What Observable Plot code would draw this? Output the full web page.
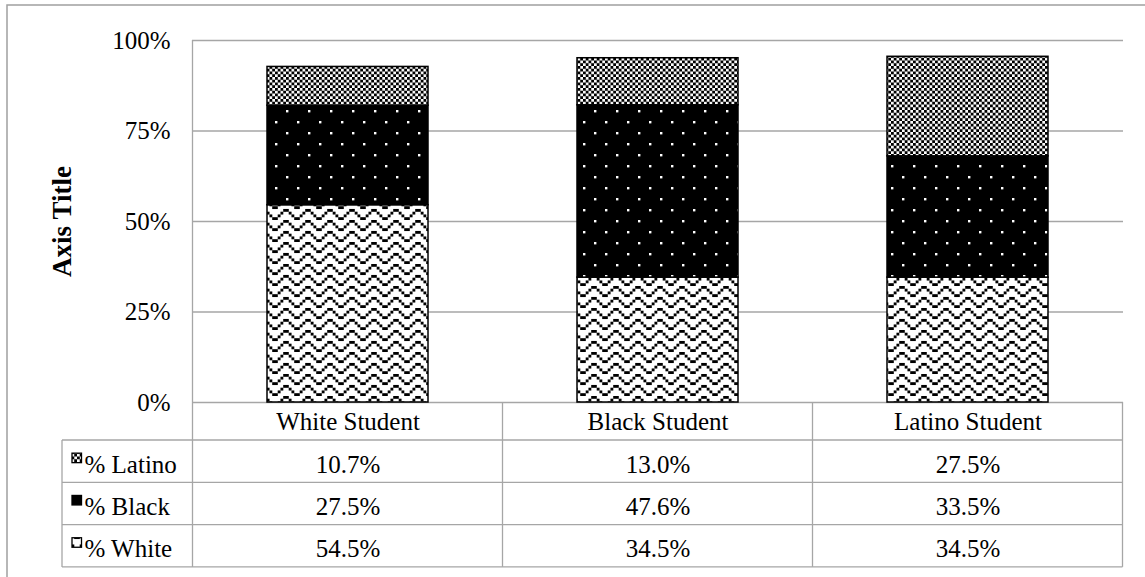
<!DOCTYPE html>
<html><head><meta charset="utf-8">
<script src="https://cdn.jsdelivr.net/npm/d3@7"></script>
<script src="https://cdn.jsdelivr.net/npm/@observablehq/plot@0.6"></script>
<style>
body{margin:0;background:#fff;}
#chart{position:relative;width:1145px;height:577px;overflow:hidden;}
</style></head><body><div id="chart"></div>
<script>
// ---- data ----
const categories = ["White Student", "Black Student", "Latino Student"];
const seriesNames = ["% White", "% Black", "% Latino"];
const pctWhite = [54.5, 34.5, 34.5];
const pctBlack = [27.5, 47.6, 33.5];
const pctLatino = [10.7, 13.0, 27.5];
const yTicks = [0, 25, 50, 75, 100];
const yTitle = "Axis Title";

const seriesValues = {"% White": pctWhite, "% Black": pctBlack, "% Latino": pctLatino};
const rows = [];
categories.forEach((c, i) => {
  seriesNames.forEach(s => rows.push({cat: c, series: s, value: seriesValues[s][i]}));
});
const tableOrder = ["% Latino", "% Black", "% White"]; // top to bottom in data table

// pick an installed Times-like serif face
function hasFont(name) {
  const ctx = document.createElement("canvas").getContext("2d");
  const probe = "White Student 0123456789% Wg";
  return ["monospace", "sans-serif"].some(base => {
    ctx.font = `24px ${base}`; const a = ctx.measureText(probe).width;
    ctx.font = `24px "${name}", ${base}`; const b = ctx.measureText(probe).width;
    return Math.abs(a - b) > 0.5;
  });
}
const serifName = ["Liberation Serif", "Times New Roman", "Tinos", "Nimbus Roman", "DejaVu Serif", "Noto Serif"].find(hasFont);
const font = (serifName ? `"${serifName}", ` : "") + "serif";
const cssRule = document.createElement("style");
cssRule.textContent = `#chart svg, #chart svg text, #chart svg g {font-family:${font} !important;}`;
document.head.appendChild(cssRule);

const grid = "#a6a6a6";
const fs = 25;
const patIds = {"% White": "patWhite", "% Black": "patBlack", "% Latino": "patLatino"};
const keyFill = {"% White": "url(#patWhite)", "% Black": "#000", "% Latino": "url(#patLatino)"};

// table geometry (offsets below the frame bottom)
const headerH = 38, rowH = 42.3, rowTextShift = 3, tableLeft = 62, keyX = 72, labelX = 84;

const plot = Plot.plot({
  width: 1145, height: 577,
  marginTop: 40, marginBottom: 175, marginLeft: 192, marginRight: 22,
  style: {fontFamily: font, fontSize: fs + "px", color: "#000", background: "transparent", overflow: "visible"},
  x: {domain: categories, paddingInner: 0.48, paddingOuter: 0.24, label: null, axis: null},
  y: {domain: [0, 100], label: null, axis: null},
  color: {domain: seriesNames, range: seriesNames.map(s => `url(#${patIds[s]})`)},
  marks: [
    Plot.ruleY(yTicks, {stroke: grid, strokeWidth: 1.3}),
    Plot.axisY({ticks: yTicks, tickFormat: d => d + "%", tickSize: 0, tickPadding: 22, fontSize: fs, label: null}),
    Plot.barY(rows, {x: "cat", y: "value", fill: "series", stroke: "#000", strokeWidth: 1.5}),
    Plot.text([yTitle], {frameAnchor: "left", dx: -130, rotate: -90, textAnchor: "middle", fontWeight: "bold", fontSize: 27, text: d => d}),
    // header row: category names
    Plot.text(categories, {x: d => d, frameAnchor: "bottom", dy: headerH / 2 + 0.5, lineAnchor: "middle", fontSize: fs, text: d => d}),
    // data rows
    ...tableOrder.map((s, k) => Plot.text(rows.filter(r => r.series === s), {
      x: "cat", frameAnchor: "bottom", dy: headerH + rowH * (k + 0.5) + rowTextShift, lineAnchor: "middle", fontSize: fs,
      text: d => d.value.toFixed(1) + "%"
    })),
    // row labels
    ...tableOrder.map((s, k) => Plot.text([s], {
      frameAnchor: "bottom-left", dx: labelX - 192, dy: headerH + rowH * (k + 0.5) + rowTextShift,
      lineAnchor: "middle", textAnchor: "start", fontSize: fs, text: d => d
    }))
  ]
});

document.getElementById("chart").appendChild(plot);
const svg = d3.select(plot);
svg.attr("font-family", font);

// ---- 8x8 pixel patterns, scaled like the original (2.75 px per cell) ----
const cell = 2.75;
const defs = svg.insert("defs", ":first-child");
function pixelPattern(id, bits, bg, fg) {
  const h = bits.length, w = bits[0].length;
  const p = defs.append("pattern").attr("id", id).attr("patternUnits", "userSpaceOnUse")
    .attr("width", w * cell).attr("height", h * cell);
  p.append("rect").attr("width", w * cell).attr("height", h * cell).attr("fill", bg);
  bits.forEach((row, y) => [...row].forEach((b, x) => {
    if (b === "1") p.append("rect").attr("x", x * cell - 0.05).attr("y", y * cell - 0.05)
      .attr("width", cell + 0.1).attr("height", cell + 0.1).attr("fill", fg);
  }));
}
pixelPattern("patWhite", [
  "10000001",
  "01000010",
  "00100100",
  "00011000",
  "10000001",
  "01000010",
  "00100100",
  "00011000"
], "#fff", "#000");
pixelPattern("patLatino", [
  "10",
  "01"
], "#fff", "#000");
{
  const s = 8 * cell, d = 2.4;
  const p = defs.append("pattern").attr("id", "patBlack").attr("patternUnits", "userSpaceOnUse").attr("width", s).attr("height", s);
  p.append("rect").attr("width", s).attr("height", s).attr("fill", "#000");
  p.append("rect").attr("x", 0).attr("y", 0).attr("width", d).attr("height", d).attr("fill", "#fff");
  p.append("rect").attr("x", s / 2).attr("y", s / 2).attr("width", d).attr("height", d).attr("fill", "#fff");
}

// ---- data table grid, from the plot's own x scale ----
const xs = plot.scale("x"), ys = plot.scale("y");
const step = xs.step, bw = xs.bandwidth;
const centers = categories.map(c => xs.apply(c) + bw / 2);
const x0 = centers[0] - step / 2, x1 = centers[centers.length - 1] + step / 2;
const yBase = ys.apply(0), yTop = ys.apply(100);
const rowLines = [0, 1, 2, 3].map(k => yBase + headerH + rowH * k);
const g = svg.append("g").attr("stroke", grid).attr("stroke-width", 1.3).attr("fill", "none");
rowLines.forEach(y => g.append("line").attr("x1", tableLeft).attr("x2", x1).attr("y1", y).attr("y2", y));
g.append("line").attr("x1", tableLeft).attr("x2", tableLeft).attr("y1", rowLines[0]).attr("y2", rowLines[3]);
g.append("line").attr("x1", x0).attr("x2", x0).attr("y1", yTop).attr("y2", rowLines[3]);
centers.forEach(c => g.append("line").attr("x1", c + step / 2).attr("x2", c + step / 2).attr("y1", yBase).attr("y2", rowLines[3]));
// legend keys
tableOrder.forEach((s, k) => {
  svg.append("rect").attr("x", keyX).attr("y", yBase + headerH + rowH * (k + 0.5) - 8)
    .attr("width", 9.5).attr("height", 9.5).attr("fill", keyFill[s]).attr("stroke", "#000").attr("stroke-width", 1.3);
});
// outer chart-area border
svg.append("rect").attr("x", 7).attr("y", 5).attr("width", 1300).attr("height", 700)
  .attr("fill", "none").attr("stroke", "#a0a0a0").attr("stroke-width", 1.5);
</script></body></html>
